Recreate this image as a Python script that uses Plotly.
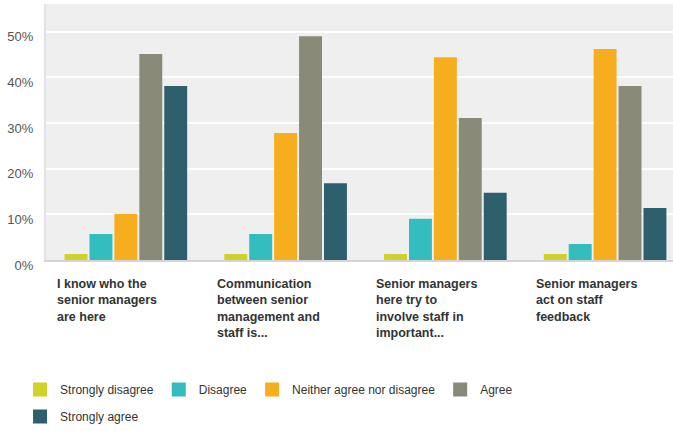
import plotly.graph_objects as go

categories = [
    "I know who the<br>senior managers<br>are here",
    "Communication<br>between senior<br>management and<br>staff is...",
    "Senior managers<br>here try to<br>involve staff in<br>important...",
    "Senior managers<br>act on staff<br>feedback",
]
series_names = ["Strongly disagree", "Disagree", "Neither agree nor disagree", "Agree", "Strongly agree"]
strongly_disagree = [1.1, 1.1, 1.1, 1.1]
disagree = [5.5, 5.5, 8.8, 3.3]
neither = [9.9, 27.6, 44.2, 46.0]
agree = [44.9, 48.8, 30.9, 37.9]
strongly_agree = [37.9, 16.6, 14.5, 11.2]
colors = ["#cfd22b", "#33bdbf", "#f6ae1f", "#8a8a79", "#2e5f6c"]
y_ticks = [0, 10, 20, 30, 40, 50]
y_tick_labels = ["0%", "10%", "20%", "30%", "40%", "50%"]

NARROW = "Liberation Sans Narrow, Liberation Sans, Arial, sans-serif"

fig = go.Figure()
xs = list(range(len(categories)))
all_series = [strongly_disagree, disagree, neither, agree, strongly_agree]
for i, (name, vals, col) in enumerate(zip(series_names, all_series, colors)):
    fig.add_trace(go.Bar(
        x=xs, y=vals, name=name, marker=dict(color=col, line=dict(width=2, color=col)),
        legend="legend" if i < 4 else "legend2",
    ))

for i, cat in enumerate(categories):
    fig.add_annotation(
        x=i - 0.5, xref="x", y=0, yref="paper", text=cat, showarrow=False,
        xanchor="left", yanchor="top", align="left", xshift=9, yshift=-15,
        font=dict(family=NARROW, size=12.5, color="#333333", weight="bold"),
    )

fig.update_layout(
    width=673, height=431,
    margin=dict(l=46, r=0, t=4, b=171),
    paper_bgcolor="white", plot_bgcolor="#efefef",
    barmode="group", bargap=0.22, bargroupgap=0.16,
    xaxis=dict(range=[-0.5, 3.425], showticklabels=False, showgrid=False, zeroline=False,
               showline=True, linecolor="#d4d4d4", linewidth=2, ticks=""),
    yaxis=dict(range=[0, 56.1], tickvals=y_ticks, ticktext=y_tick_labels,
               showgrid=True, gridcolor="white", gridwidth=2, zeroline=False,
               showline=True, linecolor="#e2e2e2", linewidth=2, ticks="",
               ticklabelstandoff=8, ticklabelshift=5,
               tickfont=dict(family="Liberation Sans, Arial, sans-serif", size=13, color="#555555")),
    legend=dict(orientation="h", x=-0.0414, xanchor="left", y=-0.5056, yanchor="middle",
                font=dict(family=NARROW, size=12, color="#333333"), bgcolor="rgba(0,0,0,0)",
                traceorder="normal"),
    legend2=dict(orientation="h", x=-0.0414, xanchor="left", y=-0.613, yanchor="middle",
                 font=dict(family=NARROW, size=12, color="#333333"), bgcolor="rgba(0,0,0,0)"),
    showlegend=True,
)

fig.write_html("out.html", config={"displayModeBar": False},
               post_script="document.body.style.margin='0';")
